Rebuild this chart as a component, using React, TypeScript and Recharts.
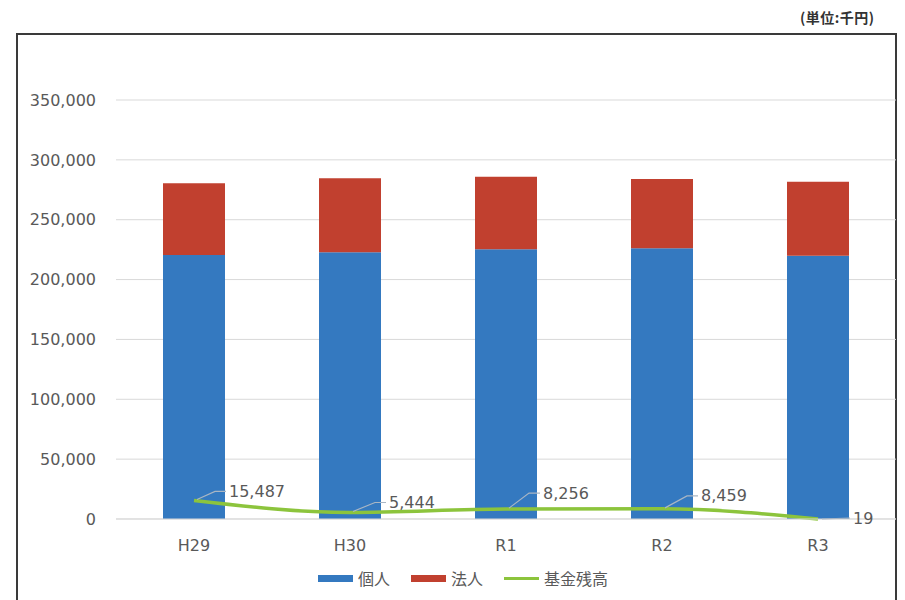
import React from "react";
import { ComposedChart, Bar, Line, XAxis, YAxis, CartesianGrid, LabelList } from "recharts";

const categories = ["H29", "H30", "R1", "R2", "R3"];
const kojin = [220500, 222800, 225300, 226100, 219900];
const hojin = [59900, 61800, 60600, 57900, 61800];
const kikin = [15487, 5444, 8256, 8459, 19];
const yTicks = [0, 50000, 100000, 150000, 200000, 250000, 300000, 350000];

const seriesNames = { kojin: "個人", hojin: "法人", kikin: "基金残高" };
const colors = { kojin: "#3479c0", hojin: "#c1402f", kikin: "#8cc43c" };

const data = categories.map((c, i) => ({
  name: c,
  kojin: kojin[i],
  hojin: hojin[i],
  kikin: kikin[i],
}));

const labelOffsets = [
  [35, -9],
  [39, -10],
  [37, -16],
  [39, -13],
  [35, -1],
];

const fmt = (v: number) => v.toLocaleString("en-US");

const FONT = "'DejaVu Sans', 'Noto Sans CJK JP', sans-serif";

const KikinLabel = (props: any) => {
  const { x, y, value, index } = props;
  const [dx, dy] = labelOffsets[index] || [35, -10];
  const tx = x + dx;
  const ty = y + dy;
  const path =
    Math.abs(dy) < 3
      ? `M${x + 4},${y} L${tx - 3},${ty}`
      : `M${x + 3},${y - 1} L${tx - 14},${ty} L${tx - 3},${ty}`;
  return (
    <g>
      <path d={path} stroke="#a9b6c4" strokeWidth={1.2} fill="none" />
      <text x={tx} y={ty} dy="0.35em" fill="#595959" fontSize={16} fontFamily={FONT}>
        {fmt(value)}
      </text>
    </g>
  );
};

export default function App() {
  return (
    <div style={{ position: "absolute", left: 0, top: 0, width: 905, height: 600, background: "#fff", overflow: "hidden" }}>
      <div
        style={{
          position: "absolute",
          left: 800,
          top: 7,
          fontSize: 14,
          letterSpacing: 0.5,
          fontWeight: "bold",
          color: "#333",
          fontFamily: "'Noto Sans CJK JP', sans-serif",
        }}
      >
        (単位:千円)
      </div>
      <div
        style={{
          position: "absolute",
          left: 16,
          top: 33,
          width: 881,
          height: 600,
          border: "2px solid #3a3a3a",
          boxSizing: "border-box",
        }}
      />
      <div style={{ position: "absolute", left: 0, top: 0 }}>
        <ComposedChart
          width={905}
          height={600}
          data={data}
          margin={{ top: 100, right: 9, left: 16, bottom: 41 }}
          barCategoryGap={47}
        >
          <CartesianGrid vertical={false} stroke="#d9d9d9" />
          <XAxis
            dataKey="name"
            height={40}
            tickLine={false}
            axisLine={{ stroke: "#d9d9d9" }}
            tickMargin={15}
            tick={{ fill: "#595959", fontSize: 16, fontFamily: FONT }}
          />
          <YAxis
            width={100}
            domain={[0, 350000]}
            ticks={yTicks}
            tickFormatter={fmt}
            axisLine={false}
            tickLine={false}
            tickMargin={14}
            tick={{ fill: "#595959", fontSize: 16, fontFamily: FONT }}
          />
          <Bar dataKey="kojin" stackId="a" fill={colors.kojin} isAnimationActive={false} />
          <Bar dataKey="hojin" stackId="a" fill={colors.hojin} isAnimationActive={false} />
          <Line
            dataKey="kikin"
            type="monotone"
            stroke={colors.kikin}
            strokeWidth={3.5}
            dot={false}
            isAnimationActive={false}
          >
            <LabelList dataKey="kikin" content={<KikinLabel />} />
          </Line>
        </ComposedChart>
      </div>
      <div
        style={{
          position: "absolute",
          left: 318,
          top: 566,
          display: "flex",
          alignItems: "center",
          fontFamily: "'Noto Sans CJK JP', sans-serif",
          fontSize: 16,
          color: "#595959",
        }}
      >
        <span style={{ width: 35, height: 7, background: colors.kojin, marginRight: 5 }} />
        <span style={{ marginRight: 21 }}>{seriesNames.kojin}</span>
        <span style={{ width: 35, height: 7, background: colors.hojin, marginRight: 5 }} />
        <span style={{ marginRight: 21 }}>{seriesNames.hojin}</span>
        <span style={{ width: 35, height: 3, background: colors.kikin, marginRight: 5 }} />
        <span>{seriesNames.kikin}</span>
      </div>
    </div>
  );
}
